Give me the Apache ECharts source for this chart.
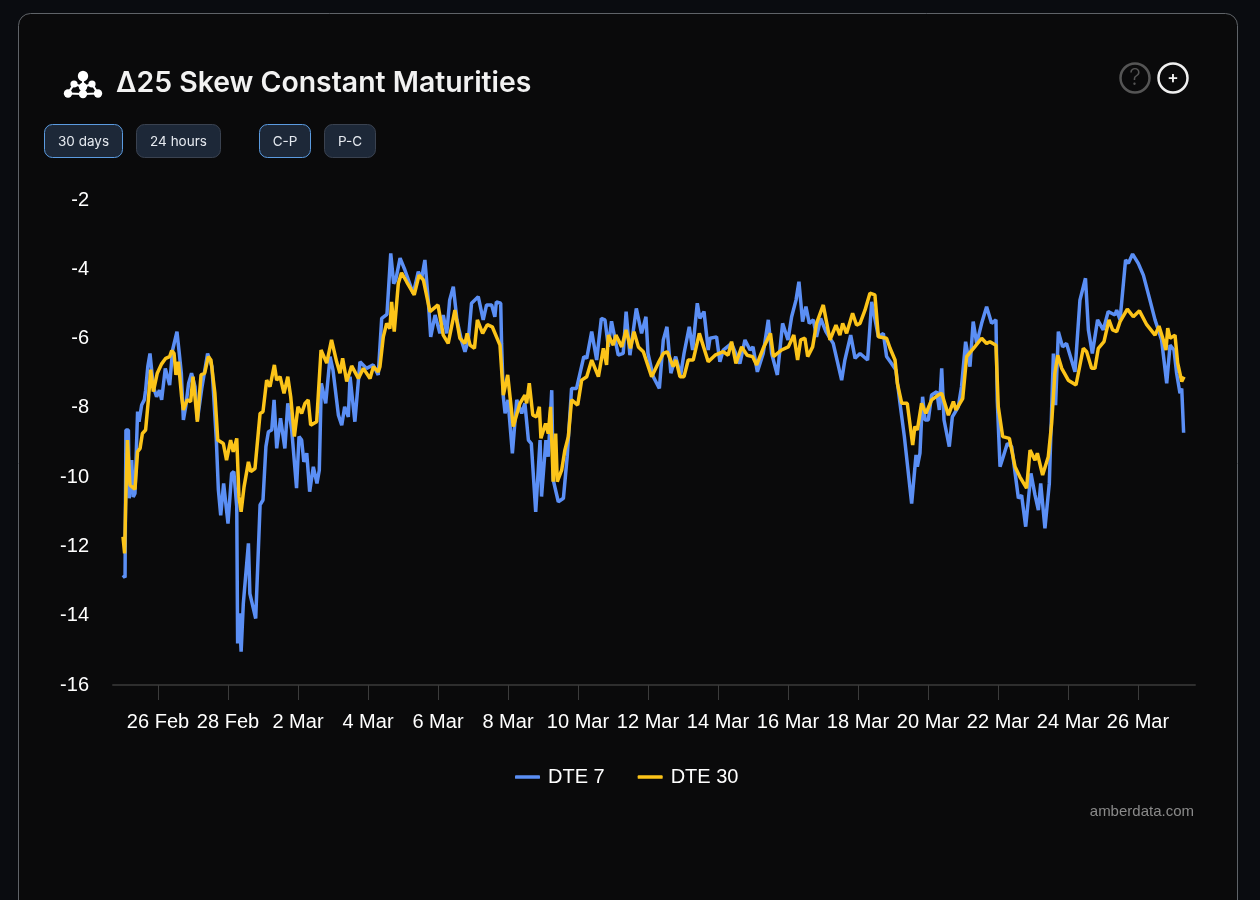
<!DOCTYPE html>
<html>
<head>
<meta charset="utf-8">
<title>Skew Constant Maturities</title>
<script src="https://cdn.jsdelivr.net/npm/echarts@6/dist/echarts.min.js"></script>
<style>
  html, body { margin: 0; padding: 0; background: #0a0c10; }
  #chart { width: 1260px; height: 900px; }
</style>
</head>
<body>
<div id="chart"></div>
<script>
// hours since 25 Feb 00:00 UTC and skew values
const dte7Hours = [0,1.4,2,3.7,4.3,6,7,8.2,10,11,12.8,14.6,15.5,17,18.5,19.7,20.8,23,25,26.5,29,32,34,37,38.6,40,41.4,43,45,47,49.4,51,54,58,61,64,65.4,67,69,72,74.5,76,78,78.6,79.8,81,82.5,86,87,91,94,96,98,99.7,102,103.6,105.4,108,111,113,115.7,119,120.7,122.5,124,126,128,130.5,133,134.6,136,139,142,144,147.7,150,152,154.5,155.7,159,162.5,167,171.6,175,177.4,181,183.6,185.6,187,190,193.3,199,202.5,204.8,207,209.3,211,214,217.3,219.6,222,224,226.5,229,232,234.5,236.8,239,243.6,247,249.3,252.8,255,256,259,259.6,260.8,262,264,267,270,273.4,275.6,278,280,283,286,287,290,291.6,294,295,298.5,302,304.6,307.6,311,313.4,316,318,321.4,324.8,328,330.5,332.8,335,339.6,343,345,347.6,352,355.6,358.6,360,363.6,367.8,370.5,373,375.7,379,382.4,384.7,388.3,390.6,393.8,395.6,398.4,401.3,402.5,407,409.3,411.6,417.3,423,426.5,430,432,435,439,442.5,444.8,448.7,452.3,456,458.5,461.5,463.5,466,468.3,470.6,473.4,475.6,478.4,482,487,492.8,495,499,502,505.4,510.6,513.4,518,521.4,523.6,527,530,532.8,535.8,540.8,543.8,544.7,546.5,548.3,550,552.2,554.5,558,559.8,561.4,563,566.6,568.7,572.8,575,577.8,580.8,583,585.4,588.8,592.2,595.6,598.6,599.5,601.4,603.6,606.4,609.4,614,616.2,619,622.6,625.4,627.7,629.3,632.2,635.2,638,639.5,641.4,644.3,647,652.8,656.2,660,662,664.7,668.3,672.2,675.6,680.2,681.4,683.7,687.5,689.4,692.3,696.2,699.7,704.2,707.7,712.2,715.7,718,720.7,722.5,724.8,726,727.3];
const dte7Values = [-12.83,-12.9,-8.64,-8.64,-10.61,-9.51,-10.57,-10.47,-8.11,-8.4,-7.92,-7.77,-7.49,-6.81,-6.43,-6.43,-7.39,-7.68,-7.49,-7.77,-6.86,-7.34,-6.33,-5.8,-6.43,-7,-8.35,-7.97,-7.29,-7,-7.39,-8.35,-7.44,-6.43,-6.81,-8.93,-10.37,-11.1,-10.18,-11.34,-9.89,-9.84,-10.85,-14.8,-13.93,-15.04,-13.65,-11.91,-13.36,-14.08,-10.8,-10.66,-9.12,-8.69,-8.64,-7.77,-9.17,-8.3,-9.17,-7.87,-8.64,-10.32,-8.83,-8.93,-9.56,-9.31,-10.42,-9.7,-10.18,-9.8,-7.29,-7.87,-6.52,-6.91,-8.21,-8.5,-7.97,-8.26,-7.1,-8.4,-6.67,-6.86,-6.76,-7.05,-5.42,-5.3,-3.54,-4.41,-4.31,-3.68,-4.02,-4.7,-4.07,-4.26,-3.73,-4.89,-5.95,-5.32,-5.85,-5.32,-5.85,-4.89,-4.5,-5.46,-6.04,-6.38,-6.04,-4.98,-4.79,-5.46,-5.03,-5.03,-5.37,-4.94,-4.98,-6.14,-7.68,-8.16,-7.77,-9.31,-7.77,-8.16,-7.87,-8.93,-9.03,-11,-8.93,-10.56,-8.93,-9.41,-7.49,-10.08,-10.71,-10.61,-9.41,-7.44,-7.44,-7,-6.52,-6.57,-5.8,-6.62,-5.42,-5.46,-6.24,-5.5,-6.48,-6.43,-5.22,-6.48,-5.13,-5.85,-5.37,-6.43,-7.1,-7.44,-6.04,-5.66,-7,-6.52,-7.05,-6.43,-5.66,-6.33,-4.98,-5.42,-5.22,-6.33,-5.99,-5.95,-6.67,-6.33,-6.14,-6.72,-6.04,-6.33,-6.24,-6.96,-6.43,-5.46,-6.43,-7.05,-5.56,-6.04,-5.37,-4.89,-4.36,-5.51,-5.08,-5.56,-5.46,-5.95,-5.42,-5.8,-6.14,-7.2,-6.62,-5.9,-6.57,-6.43,-6.62,-4.94,-5.95,-5.85,-6.52,-6.72,-6.91,-7.87,-8.83,-10.76,-9.36,-9.7,-9.31,-7.68,-8.35,-8.35,-7.63,-7.53,-8.06,-6.86,-8.35,-9.12,-8.26,-7.97,-7.39,-6.09,-6.81,-5.51,-6.14,-5.56,-5.08,-5.56,-5.46,-7.77,-9.7,-9.41,-9.03,-9.12,-10.61,-10.52,-11.43,-9.89,-10.52,-10.95,-10.18,-11.48,-10.18,-6.43,-7.92,-5.8,-6.24,-6.14,-6.96,-4.89,-4.26,-5.75,-6.43,-5.46,-5.75,-5.22,-5.32,-5.18,-5.46,-3.73,-3.83,-3.56,-3.83,-4.17,-4.89,-5.46,-6.04,-7.29,-6.19,-6.33,-7,-7.58,-7.44,-8.72];
const dte30Hours = [0,1.1,1.8,3,4.8,8.2,10,11.7,13.3,15.5,17.4,19,20.8,23.5,26.5,29.3,32,33.4,35,36.3,38,40.2,41.4,44,46.4,48,51,53.5,56,58.5,60.3,63,65,68.8,71,73.8,75.6,78,79.5,81,83,86,87.6,90.5,94,96,98.5,100.8,103.8,105.4,107.7,110.4,113,115,117.5,120,122.5,124.8,127,128.7,132.8,135.8,139.7,143,146.5,148.8,150.6,153.4,156.8,161.4,164.8,169.4,171.7,175,176.2,178.5,180.8,183,184.2,186,188.8,191,194.5,199.7,203,206,210.5,216,219.6,223,227.6,231,234.5,236,238,241,243,246.6,249.8,253.2,258.5,260.8,263.8,267.6,272.2,275.6,276.8,278.6,281,283.6,285.5,286.6,289.8,291.6,293.2,295,296.7,297.8,300.8,303,305.4,307.6,311.8,314.5,318,321.4,326,329.4,331.6,332.8,336.2,338,342,345,348,350.4,353.4,356.8,362.5,367,370.5,373.2,377.3,379.2,381.9,384.7,387.6,391,395.2,398.4,401.3,406,411.6,415,417.3,420.3,424.2,428,431.7,434.5,439,444,446,451.6,456.2,460,462.6,464.7,467.6,469.5,472.9,475.6,480.2,484.8,488.9,491.6,493.5,496.2,500.3,503,505.4,508.8,512.2,515.6,518,523.6,526,529.4,531,534,537.8,541.5,543,544.7,547.6,550.6,554.5,559,561.4,566,569.4,571.2,575.8,578.5,584.2,588.8,592.2,594.5,598.6,600.2,603.2,607.8,611.7,615,619.6,622,625.4,627,630.6,634.5,636.8,639,641,643.7,648.2,653.5,658.5,660.8,664.2,666.5,668.8,672.7,676.1,678.6,681.4,683.7,688.7,692.8,697,702,707.7,710.4,713.4,715.2,716.4,718,721.4,723.2,726,727.6];
const dte30Values = [-11.72,-12.2,-10.85,-8.93,-10.23,-10.35,-9.27,-9.17,-8.74,-8.64,-7.77,-6.9,-7.53,-7,-6.73,-6.57,-6.52,-6.35,-6.43,-7.05,-6.67,-7.68,-8.06,-7.77,-7.82,-7.1,-8.4,-7.05,-7,-6.52,-6.62,-7.58,-8.93,-9.03,-9.51,-8.93,-9.27,-8.88,-10.57,-11,-10.28,-9.56,-9.84,-9.75,-8.16,-8.11,-7.2,-7.39,-6.76,-7.2,-7.1,-7.58,-7.1,-7.68,-8.83,-7.97,-8.16,-7.87,-7.77,-8.5,-8.4,-6.33,-6.71,-6.04,-6.67,-7,-6.57,-7.24,-6.79,-7.15,-6.86,-7.15,-6.81,-6.96,-6.81,-5.95,-5.56,-5.71,-4.94,-5.8,-4.41,-4.1,-4.36,-4.74,-4.17,-4.31,-5.22,-5.03,-5.9,-6.14,-5.18,-5.99,-6.14,-5.85,-6.19,-6.28,-5.46,-5.85,-5.6,-5.66,-6.19,-7.63,-7.05,-8.54,-7.87,-7.63,-7.87,-7.29,-8.21,-8.26,-7.97,-8.88,-8.45,-8.74,-7.97,-10.13,-8.74,-10.13,-9.8,-9.22,-8.83,-7.77,-7.92,-7.2,-7.1,-6.62,-7.1,-6.28,-6.76,-5.9,-6.19,-5.9,-6.24,-5.75,-6.28,-5.8,-6.24,-6.38,-7.1,-6.71,-6.43,-6.38,-6.81,-6.62,-7.1,-7.1,-6.62,-6.62,-5.85,-6.28,-6.67,-6.48,-6.38,-6.48,-6.09,-6.72,-6.24,-6.48,-6.52,-6.76,-6.28,-5.85,-6.52,-6.33,-6.24,-5.9,-6.62,-6.04,-5.99,-6.52,-6.24,-5.56,-5.03,-6.04,-5.61,-5.9,-5.56,-5.85,-5.27,-5.61,-5.56,-5.18,-4.69,-4.74,-5.95,-5.99,-6.28,-6.62,-7.29,-7.87,-7.87,-9.07,-8.54,-8.64,-7.87,-8.16,-7.77,-7.63,-7.58,-8.21,-7.82,-8.06,-7.73,-6.52,-6.23,-5.99,-6.14,-6.09,-6.19,-7.97,-8.83,-8.88,-9.7,-9.99,-10.32,-9.22,-9.51,-9.31,-9.94,-9.41,-8.45,-7,-6.48,-6.86,-7.2,-7.34,-6.28,-6.38,-6.86,-6.86,-6.28,-6.09,-5.46,-5.75,-5.8,-5.51,-5.15,-5.37,-5.2,-5.6,-5.9,-5.64,-6.04,-6.33,-5.7,-5.99,-5.9,-6.7,-7.24,-7.1];
const tickHours = [24,72,120,168,216,264,312,360,408,456,504,552,600,648,696];
const tickLabels = ['26 Feb','28 Feb','2 Mar','4 Mar','6 Mar','8 Mar','10 Mar','12 Mar','14 Mar','16 Mar','18 Mar','20 Mar','22 Mar','24 Mar','26 Mar'];
const timeButtons = ['30 days', '24 hours'];
const sideButtons = ['C-P', 'P-C'];

function toPairs(hours, values) {
  return hours.map((h, i) => [h, values[i]]);
}

function button(x, w, label, selected) {
  return [{
    type: 'rect',
    shape: { x: x, y: 124.5, width: w, height: 33, r: 8 },
    style: { fill: '#1d2838', stroke: selected ? '#5b9be0' : '#3a4250', lineWidth: 1 }
  }, {
    type: 'text',
    style: {
      x: x + w / 2, y: 141.5, text: label, align: 'center', verticalAlign: 'middle',
      fill: '#e6eaf0', font: '400 13.5px Inter'
    }
  }];
}

function logo() {
  const dots = [[83, 76, 5.2], [74, 84, 3.6], [92, 84, 3.6], [83, 87, 4.2], [68, 93.5, 4.2], [83, 94, 4.2], [98, 93.5, 4.2]];
  const links = [[68, 93.5, 83, 94], [83, 94, 98, 93.5], [74, 84, 83, 87], [92, 84, 83, 87], [83, 76, 83, 94], [74, 84, 68, 93.5], [92, 84, 98, 93.5]];
  const items = links.map(l => ({
    type: 'line',
    shape: { x1: l[0], y1: l[1], x2: l[2], y2: l[3] },
    style: { stroke: '#ffffff', lineWidth: 2.2 }
  }));
  return items.concat(dots.map(d => ({
    type: 'circle',
    shape: { cx: d[0], cy: d[1], r: d[2] },
    style: { fill: '#ffffff' }
  })));
}

const chart = echarts.init(document.getElementById('chart'));
chart.setOption({
  backgroundColor: '#0a0c10',
  animation: false,
  title: {
    text: 'Δ25 Skew Constant Maturities',
    left: 111,
    top: 64,
    textStyle: { color: '#f2f2f2', fontFamily: 'Inter', fontWeight: 600, fontSize: 28.4 }
  },
  legend: {
    left: 510,
    top: 762,
    itemWidth: 25,
    itemHeight: 3.5,
    itemGap: 33,
    icon: 'roundRect',
    data: ['DTE 7', 'DTE 30'],
    textStyle: { color: '#ffffff', fontFamily: 'Liberation Sans', fontSize: 20, padding: [0, 0, 0, 3] }
  },
  grid: { left: 113, right: 65, top: 200, bottom: 215 },
  xAxis: {
    type: 'value',
    min: -6.86,
    max: 735.1,
    axisLine: { onZero: false, lineStyle: { color: '#2e2e2e', width: 2 } },
    splitLine: { show: false },
    axisTick: { show: true, length: 15, customValues: tickHours, lineStyle: { color: '#3c3c3c', width: 1 } },
    axisLabel: {
      customValues: tickHours,
      color: '#ffffff',
      fontFamily: 'Liberation Sans',
      fontSize: 20,
      margin: 27,
      hideOverlap: false,
      formatter: function (value) {
        return tickLabels[tickHours.indexOf(value)];
      }
    }
  },
  yAxis: {
    type: 'value',
    min: -16,
    max: -2,
    interval: 2,
    axisLine: { show: false },
    axisTick: { show: false },
    splitLine: { show: false },
    axisLabel: { color: '#ffffff', fontFamily: 'Liberation Sans', fontSize: 20, margin: 24 }
  },
  series: [{
    name: 'DTE 7',
    type: 'line',
    showSymbol: false,
    data: toPairs(dte7Hours, dte7Values),
    lineStyle: { color: '#5b8ff5', width: 3.5 },
    itemStyle: { color: '#5b8ff5' }
  }, {
    name: 'DTE 30',
    type: 'line',
    showSymbol: false,
    data: toPairs(dte30Hours, dte30Values),
    lineStyle: { color: '#fcc419', width: 3.5 },
    itemStyle: { color: '#fcc419' }
  }],
  graphic: {
    elements: [{
      type: 'rect',
      z: -10,
      shape: { x: 18.5, y: 13.5, width: 1219, height: 940, r: 12 },
      style: { fill: '#0a0a0b', stroke: '#5f6368', lineWidth: 1 }
    }].concat(
      logo(),
      button(44.5, 78, timeButtons[0], true),
      button(136.5, 84, timeButtons[1], false),
      button(259.5, 51, sideButtons[0], true),
      button(324.5, 51, sideButtons[1], false),
      [{
        type: 'circle',
        shape: { cx: 1135, cy: 78, r: 14.5 },
        style: { fill: 'none', stroke: '#555555', lineWidth: 2.5 }
      }, {
        type: 'text',
        style: { x: 1135, y: 78, text: '?', align: 'center', verticalAlign: 'middle', fill: '#555555', font: '300 23px Inter' }
      }, {
        type: 'circle',
        shape: { cx: 1173, cy: 78, r: 14.5 },
        style: { fill: 'none', stroke: '#f0f0f0', lineWidth: 2.5 }
      }, {
        type: 'text',
        style: { x: 1173, y: 78, text: '+', align: 'center', verticalAlign: 'middle', fill: '#f0f0f0', font: '600 17px Inter' }
      }, {
        type: 'text',
        style: { x: 1194, y: 812, text: 'amberdata.com', align: 'right', verticalAlign: 'middle', fill: '#8a8a8a', font: '15px "Liberation Sans"' }
      }]
    )
  }
});
</script>
</body>
</html>
